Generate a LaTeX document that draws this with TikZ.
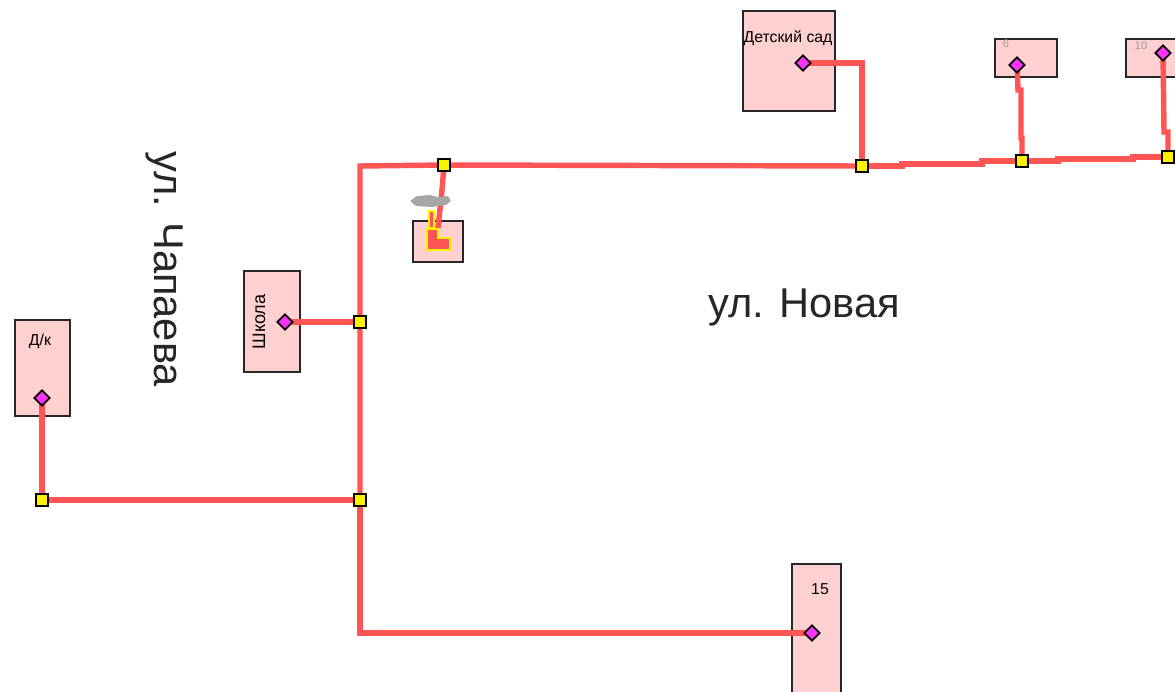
\documentclass[tikz,border=0pt]{standalone}
\usepackage{fontspec}
\setmainfont{Liberation Sans}
\usetikzlibrary{shapes.geometric, backgrounds}
\definecolor{linered}{RGB}{255,85,85}
\definecolor{housepink}{RGB}{255,208,208}
\definecolor{nodemag}{RGB}{250,50,250}
\tikzset{
    house/.style={draw=black!85, fill=housepink, line width=1pt},
    feed/.style={draw=linered, line width=3.1pt},
    joint/.style={rectangle, fill=yellow, draw=black, line width=1pt, minimum size=6.5pt, inner sep=0pt},
    tap/.style={diamond, fill=nodemag, draw=black, line width=1pt, minimum size=9pt, inner sep=0pt},
    street/.style={font=\fontsize{23.7}{24}\selectfont, text=black!85, inner sep=0pt},
    small/.style={font=\fontsize{9}{10}\selectfont, inner sep=0pt},
    tiny/.style={font=\fontsize{6.3}{7}\selectfont, text=black!40, inner sep=0pt}
}
\begin{document}
\begin{tikzpicture}[x=0.02cm, y=-0.02cm]
    \useasboundingbox (0,0) rectangle (1175,691);

    % points
    \coordinate (c1) at (360,166);
    \coordinate (c2) at (862,63);
    \coordinate (c3) at (360,633);
    \coordinate (c4) at (438,228);
    \node[joint] (j1) at (444,165) {};
    \node[joint] (j2) at (862,166) {};
    \node[joint] (j3) at (1022,161) {};
    \node[joint] (j4) at (1168,157) {};
    \node[joint] (j5) at (360,322) {};
    \node[joint] (j6) at (360,500) {};
    \node[joint] (j7) at (42,500) {};
    \node[tap] (t1) at (803,63) {};
    \node[tap] (t2) at (1017,65) {};
    \node[tap] (t3) at (1163,53) {};
    \node[tap] (t4) at (285,322) {};
    \node[tap] (t5) at (42,398) {};
    \node[tap] (t6) at (812,633) {};

    \begin{scope}[on background layer]
        % houses
        \path[house] (743,11) rectangle (835,111);
        \path[house] (995,39) rectangle (1057,77);
        \path[house] (1126,39) rectangle (1180,77);
        \path[house] (244,271) rectangle (300,372);
        \path[house] (15,320) rectangle (70,416);
        \path[house] (792,564) rectangle (841,695);
        \path[house] (413,221) rectangle (463,262);

        % lines
        \path[feed] (j6.center) -- (j5.center) -- (c1) -- (j1.center) -- (j2.center);
        \path[feed] (j2.center) -- (902,166) -- (902,164) -- (982,164) -- (982,161) -- (j3.center);
        \path[feed] (j3.center) -- (1058,161) -- (1058,159) -- (1133,159) -- (1133,157) -- (j4.center);
        \path[feed] (t1.center) -- (c2) -- (j2.center);
        \path[feed] (t2.center) -- (1018,90) -- (1021,90) -- (1021,138) -- (1022,138) -- (j3.center);
        \path[feed] (t3.center) -- (1164,132) -- (1168,132) -- (j4.center);
        \path[feed] (t4.center) -- (j5.center);
        \path[feed] (t5.center) -- (j7.center) -- (j6.center);
        \path[feed] (j6.center) -- (c3) -- (t6.center);
        \path[feed] (j1.center) -- (442,190) -- (c4);
    \end{scope}

    % well
    \fill[black!35, rounded corners=0.5pt] (410,201) -- (417,196) -- (430,195) -- (438,197) -- (448,196) -- (451,201) -- (446,205) -- (432,207) -- (416,206) -- cycle;
    \path[fill=linered, draw=yellow, line width=0.8pt] (429,211) rectangle (434,228);
    \path[fill=linered, draw=yellow, line width=0.8pt] (427,229) -- (438,229) -- (438,238) -- (450,238) -- (450,250) -- (427,250) -- cycle;

    % labels
    \node[street] (novaya) at (804,307) {ул. Новая};
    \node[street, rotate=-90] (chapaeva) at (164,269) {ул. Чапаева};
    \node[small] (sad) at (788,38) {Детский сад};
    \node[small, font=\fontsize{10.3}{11}\selectfont, rotate=90] (school) at (259,322) {Школа};
    \node[small] (dk) at (40,341) {Д/к};
    \node[small] (n15) at (820,589) {15};
    \node[tiny] (n6) at (1006,44) {6};
    \node[tiny] (n10) at (1141,46) {10};
\end{tikzpicture}
\end{document}
